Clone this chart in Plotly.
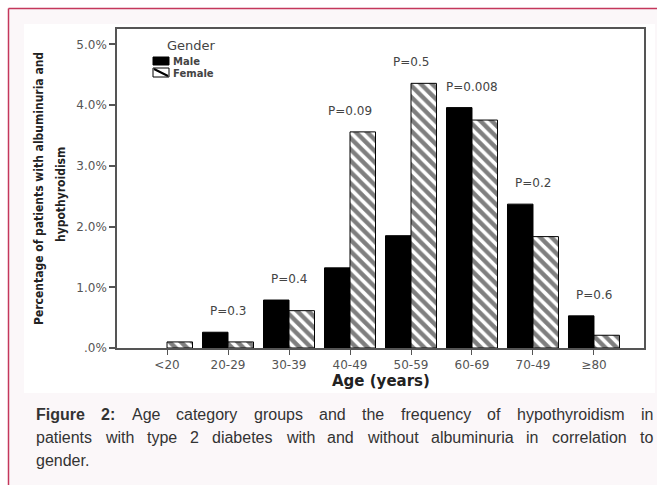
import plotly.graph_objects as go

# ---------------- data ----------------
age_groups = ["<20", "20-29", "30-39", "40-49", "50-59", "60-69", "70-49", "≥80"]
male_pct = [0.0, 0.26, 0.79, 1.32, 1.85, 3.96, 2.37, 0.53]
female_pct = [0.10, 0.10, 0.615, 3.56, 4.36, 3.755, 1.835, 0.21]
p_labels = ["", "P=0.3", "P=0.4", "P=0.09", "P=0.5", "P=0.008", "P=0.2", "P=0.6"]
y_tick_vals = [0, 1, 2, 3, 4, 5]
y_tick_text = [".0%", "1.0%", "2.0%", "3.0%", "4.0%", "5.0%"]

caption_lines = [
    [("Figure", True), ("2:", True), ("Age", False), ("category", False), ("groups", False),
     ("and", False), ("the", False), ("frequency", False), ("of", False),
     ("hypothyroidism", False), ("in", False)],
    [("patients", False), ("with", False), ("type", False), ("2", False), ("diabetes", False),
     ("with", False), ("and", False), ("without", False), ("albuminuria", False), ("in", False),
     ("correlation", False), ("to", False)],
    [("gender.", False)],
]

# ---------------- geometry helpers ----------------
WIDTH, HEIGHT = 657, 485
L, T, W, H = 117, 29, 527, 319          # plot area in window pixels


def fx(px):
    return (px - L) / W


def fy(py):
    return (T + H - py) / H


FONT = "DejaVu Sans, Verdana, sans-serif"
AXC = "#555555"

fig = go.Figure()
fig.add_trace(go.Bar(
    x=age_groups, y=male_pct, name="Male",
    marker=dict(color="black",
                line=dict(color="black", width=[1 if v > 0 else 0 for v in male_pct])),
    showlegend=False,
))
fig.add_trace(go.Bar(
    x=age_groups, y=female_pct, name="Female",
    marker=dict(color="white",
                line=dict(color="black", width=[1 if v > 0 else 0 for v in female_pct]),
                pattern=dict(shape="\\", fgcolor="black", bgcolor="white",
                             size=8, solidity=0.55)),
    showlegend=False,
))

shapes = []
# page background pieces
shapes.append(dict(type="rect", xref="paper", yref="paper", layer="below",
                   x0=fx(8), x1=fx(670), y0=fy(8), y1=fy(500),
                   fillcolor="#fbf7f9", line=dict(width=0)))
shapes.append(dict(type="rect", xref="paper", yref="paper", layer="below",
                   x0=fx(24), x1=fx(655), y0=fy(24), y1=fy(393),
                   fillcolor="white", line=dict(width=0)))
shapes.append(dict(type="line", xref="paper", yref="paper", layer="below",
                   x0=fx(8.5), x1=fx(670), y0=fy(8.5), y1=fy(8.5),
                   line=dict(color="#c4375b", width=1.5)))
shapes.append(dict(type="line", xref="paper", yref="paper", layer="below",
                   x0=fx(8.5), x1=fx(8.5), y0=fy(8.5), y1=fy(500),
                   line=dict(color="#c4375b", width=1.5)))
# legend swatches
shapes.append(dict(type="rect", xref="paper", yref="paper",
                   x0=fx(153), x1=fx(169), y0=fy(57), y1=fy(65),
                   fillcolor="black", line=dict(color="black", width=1)))
shapes.append(dict(type="rect", xref="paper", yref="paper",
                   x0=fx(153), x1=fx(169), y0=fy(68), y1=fy(77),
                   fillcolor="white", line=dict(color="black", width=1)))
shapes.append(dict(type="line", xref="paper", yref="paper",
                   x0=fx(154), x1=fx(168), y0=fy(69), y1=fy(76),
                   line=dict(color="black", width=2)))

annotations = []
# p-value labels above each age group
for cat, m, f, p in zip(age_groups, male_pct, female_pct, p_labels):
    if p:
        annotations.append(dict(x=cat, y=max(m, f), xref="x", yref="y", text=p,
                                showarrow=False, yshift=21, yanchor="middle",
                                font=dict(family=FONT, size=12, color="#444444")))
# legend texts
annotations.append(dict(x=fx(191), y=fy(45), xref="paper", yref="paper", text="Gender",
                        showarrow=False, xanchor="center", yanchor="middle",
                        font=dict(family=FONT, size=13, color="#444444")))
annotations.append(dict(x=fx(171), y=fy(62), xref="paper", yref="paper", text="<b>Male</b>",
                        showarrow=False, xanchor="left", yanchor="middle",
                        font=dict(family=FONT, size=10, color="#444444")))
annotations.append(dict(x=fx(171), y=fy(73), xref="paper", yref="paper", text="<b>Female</b>",
                        showarrow=False, xanchor="left", yanchor="middle",
                        font=dict(family=FONT, size=10, color="#444444")))
# axis titles
annotations.append(dict(x=fx(380.5), y=fy(381), xref="paper", yref="paper",
                        text="<b>Age (years)</b>", showarrow=False,
                        xanchor="center", yanchor="middle",
                        font=dict(family=FONT, size=15, color="#222222")))
YT_FONT = "Liberation Sans Narrow, DejaVu Sans Condensed, Arial Narrow, sans-serif"
annotations.append(dict(x=fx(39), y=fy(189), xref="paper", yref="paper",
                        text="<b>Percentage of patients with albuminuria and</b>",
                        showarrow=False, textangle=-90, xanchor="center", yanchor="middle",
                        font=dict(family=YT_FONT, size=12, color="#222222")))
annotations.append(dict(x=fx(61), y=fy(195), xref="paper", yref="paper",
                        text="<b>hypothyroidism</b>",
                        showarrow=False, textangle=-90, xanchor="center", yanchor="middle",
                        font=dict(family=YT_FONT, size=12, color="#222222")))

# caption, justified word by word (Arial / Liberation Sans metrics, per 1000 em)
REG = dict(a=556, b=556, c=500, d=556, e=556, f=278, g=556, h=556, i=222, j=222, k=500,
           l=222, m=833, n=556, o=556, p=556, q=556, r=333, s=500, t=278, u=556, v=500,
           w=722, x=500, y=500, z=500, A=667, F=611)
BOLD = dict(F=611, i=278, g=611, u=611, r=389, e=556)
CAP_SIZE = 16


def word_width(word, bold):
    tot = 0
    for ch in word:
        if ch.isdigit():
            tot += 556
        elif ch in ".:":
            tot += 333 if (bold and ch == ":") else 278
        else:
            tot += (BOLD.get(ch, 600) if bold else REG.get(ch, 556))
    return tot * CAP_SIZE / 1000.0


CAP_LEFT, CAP_RIGHT = 35, 652
line_y = [414, 437, 460]
for li, (words, ypx) in enumerate(zip(caption_lines, line_y)):
    widths = [word_width(w, b) for w, b in words]
    justify = li < len(caption_lines) - 1 and len(words) > 1
    if justify:
        gap = (CAP_RIGHT - CAP_LEFT - sum(widths)) / (len(words) - 1)
    else:
        gap = 0.278 * CAP_SIZE
    xpos = CAP_LEFT
    for (w, b), wd in zip(words, widths):
        annotations.append(dict(x=fx(xpos), y=fy(ypx), xref="paper", yref="paper",
                                text=f"<b>{w}</b>" if b else w, showarrow=False,
                                xanchor="left", yanchor="middle", borderpad=0,
                                font=dict(family="Liberation Sans, Arial, sans-serif",
                                          size=CAP_SIZE, color="#333333")))
        xpos += wd + gap

fig.update_layout(
    width=WIDTH, height=HEIGHT, autosize=False,
    margin=dict(l=L, r=WIDTH - L - W, t=T, b=HEIGHT - T - H, pad=0),
    paper_bgcolor="white", plot_bgcolor="white",
    barmode="group", bargap=0.164, bargroupgap=0,
    shapes=shapes, annotations=annotations,
    showlegend=False,
    xaxis=dict(range=[-0.82, 7.82], showline=True, linecolor=AXC, linewidth=1.5,
               mirror=True, ticks="outside", ticklen=5, tickwidth=1, tickcolor=AXC,
               showgrid=False, zeroline=False,
               tickfont=dict(family=FONT, size=12, color="#555555")),
    yaxis=dict(range=[0, 5.255], showline=True, linecolor=AXC, linewidth=1.5,
               mirror=True, ticks="outside", ticklen=6, tickwidth=1.5, tickcolor=AXC,
               tickvals=y_tick_vals, ticktext=y_tick_text,
               showgrid=False, zeroline=False,
               tickfont=dict(family=FONT, size=12, color="#555555")),
)

# remove the browser's default 8px body margin so the figure fills the window
fig.write_html("out.html",
               config={"displayModeBar": False},
               post_script="document.body.style.margin='0';document.body.style.overflow='hidden';")
